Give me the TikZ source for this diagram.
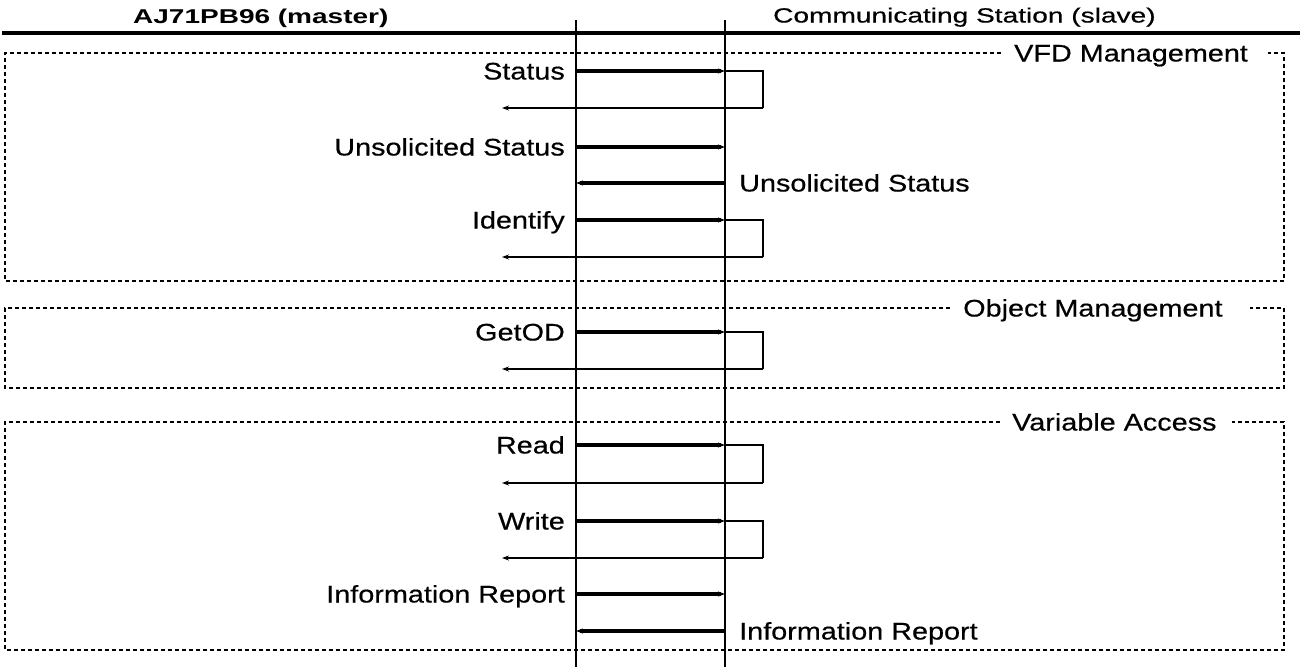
\documentclass[tikz,border=0pt]{standalone}
\usepackage{fontspec}
\setmainfont{Liberation Sans}
\newfontfamily\lblfont[FakeStretch=1.2,FakeBold=0.5]{Liberation Sans}
\newfontfamily\slfont[FakeStretch=1.37,FakeBold=0.6]{Liberation Sans}
\newfontfamily\hdfont[FakeStretch=1.4]{Liberation Sans}
\usetikzlibrary{arrows.meta}
\begin{document}
\begin{tikzpicture}[x=1pt,y=-1pt,
  lbl/.style={inner sep=0pt,font=\lblfont\fontsize{24}{28}\selectfont},
  lifeline/.style={line width=2.4pt},
  req/.style={line width=3.2pt,-{Stealth[length=7pt,width=5pt]}},
  resp/.style={line width=2.2pt,-{Stealth[length=7pt,width=5pt]}},
  proc/.style={line width=1.8pt},
  grp/.style={line width=1.6pt,dash pattern=on 4pt off 3pt}]
\useasboundingbox (0,0) rectangle (1300,667);
% header
\node[inner sep=0pt,anchor=base west,font=\hdfont\bfseries\fontsize{20}{24}\selectfont] (hm) at (133,23) {AJ71PB96 (master)};
\node[inner sep=0pt,anchor=base west,font=\slfont\fontsize{20.5}{24}\selectfont] (hs) at (773,22.5) {Communicating Station (slave)};
\coordinate (hl) at (2,33); \coordinate (hr) at (1300,33);
\draw[line width=3.4pt] (hl) -- (hr);
% lifelines
\coordinate (mt) at (576,20); \coordinate (mb) at (576,667);
\coordinate (st) at (725,20); \coordinate (sb) at (725,667);
\draw[lifeline] (mt) -- (mb);
\draw[lifeline] (st) -- (sb);
% group boxes
\node[lbl,anchor=base west] (g1) at (1014,61.5) {VFD Management};
\draw[grp] (1001,53) -- (5,53) -- (5,281) -- (1284,281) -- (1284,53) -- (1268,53);
\node[lbl,anchor=base west] (g2) at (963,316.5) {Object Management};
\draw[grp] (950,308) -- (5,308) -- (5,388) -- (1284,388) -- (1284,308) -- (1250,308);
\node[lbl,anchor=base west] (g3) at (1012,430.5) {Variable Access};
\draw[grp] (1000,422) -- (5,422) -- (5,650) -- (1284,650) -- (1284,422) -- (1232,422);
% confirmed services
\foreach \n/\ya/\yb/\t in {st/71/108/Status, id/220/257/Identify, go/332/369/GetOD, rd/445/483/Read, wr/521/558/Write}{
  \node[lbl,anchor=base east] (\n l) at (565,\ya+8.5) {\t};
  \coordinate (\n a) at (576,\ya);
  \coordinate (\n b) at (725,\ya);
  \coordinate (\n c) at (763,\ya);
  \coordinate (\n d) at (763,\yb);
  \coordinate (\n e) at (502,\yb);
  \draw[req] (\n a) -- (\n b);
  \draw[proc] (\n b) -- (\n c) -- (\n d);
  \draw[resp] (\n d) -- (\n e);
}
% unconfirmed services
\foreach \n/\ya/\yb/\t in {us/147/183/Unsolicited Status, ir/594/631/Information Report}{
  \node[lbl,anchor=base east] (\n l) at (565,\ya+8.5) {\t};
  \node[lbl,anchor=base west] (\n r) at (739,\yb+8.5) {\t};
  \coordinate (\n a) at (576,\ya);
  \coordinate (\n b) at (725,\ya);
  \coordinate (\n c) at (725,\yb);
  \coordinate (\n d) at (576,\yb);
  \draw[req] (\n a) -- (\n b);
  \draw[req] (\n c) -- (\n d);
}
\end{tikzpicture}
\end{document}
